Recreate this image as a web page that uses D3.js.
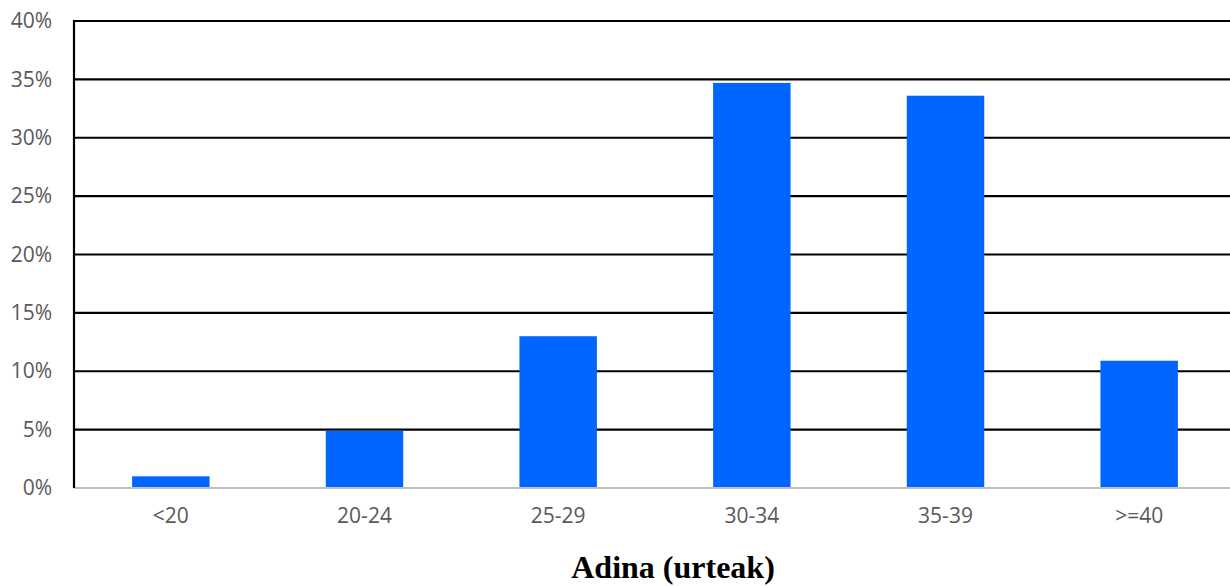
<!DOCTYPE html>
<html>
<head>
<meta charset="utf-8">
<script src="https://cdn.jsdelivr.net/npm/d3@7"></script>
<style>
  html, body { margin: 0; padding: 0; background: #ffffff; }
  svg { display: block; }
</style>
</head>
<body>
<svg id="chart" width="1230" height="586"></svg>
<script>
// Age groups and share of cases per group (%)
const categories = ["<20", "20-24", "25-29", "30-34", "35-39", ">=40"];
const values = [1.0, 4.9, 13.0, 34.7, 33.6, 10.9];
const yTicks = [0, 5, 10, 15, 20, 25, 30, 35, 40];
const xTitle = "Adina (urteak)";

const svg = d3.select("#chart");
const margin = { left: 74, top: 21, right: -6, bottom: 98 };
const W = 1230, H = 586;

const x = d3.scaleBand()
  .domain(categories)
  .range([margin.left, W - margin.right])
  .paddingInner(0.6)
  .paddingOuter(0.3);

const y = d3.scaleLinear()
  .domain([0, 40])
  .range([H - margin.bottom, margin.top]);

// horizontal gridlines
svg.append("g")
  .selectAll("line")
  .data(yTicks.filter(d => d > 0))
  .join("line")
  .attr("x1", margin.left)
  .attr("x2", W)
  .attr("y1", d => y(d))
  .attr("y2", d => y(d))
  .attr("stroke", "#000")
  .attr("stroke-width", 2.2);

// bars
svg.append("g")
  .selectAll("rect")
  .data(values)
  .join("rect")
  .attr("x", (d, i) => x(categories[i]))
  .attr("width", x.bandwidth())
  .attr("y", d => y(d))
  .attr("height", d => y(0) - y(d))
  .attr("fill", "#0066ff");

// baseline
svg.append("line")
  .attr("x1", margin.left).attr("x2", W)
  .attr("y1", y(0)).attr("y2", y(0))
  .attr("stroke", "#bfbfbf")
  .attr("stroke-width", 2.2);

// vertical axis line
svg.append("line")
  .attr("x1", margin.left).attr("x2", margin.left)
  .attr("y1", y(40) - 1).attr("y2", y(0))
  .attr("stroke", "#000")
  .attr("stroke-width", 2.2);

// y axis labels
const yAxis = d3.axisLeft(y)
  .tickValues(yTicks)
  .tickFormat(d => d + "%")
  .tickSize(0)
  .tickPadding(22);
const gy = svg.append("g")
  .attr("transform", `translate(${margin.left},0)`)
  .call(yAxis);
gy.select(".domain").remove();
gy.selectAll("text")
  .attr("fill", "#595959")
  .attr("font-family", "'Open Sans', sans-serif")
  .attr("font-size", 21);

// x axis labels
const xAxis = d3.axisBottom(x).tickSize(0).tickPadding(20);
const gx = svg.append("g")
  .attr("transform", `translate(0,${y(0)})`)
  .call(xAxis);
gx.select(".domain").remove();
gx.selectAll("text")
  .attr("fill", "#595959")
  .attr("font-family", "'Open Sans', sans-serif")
  .attr("font-size", 21);

// x axis title
svg.append("text")
  .attr("x", 673)
  .attr("y", 578)
  .attr("text-anchor", "middle")
  .attr("font-family", "'Liberation Serif', 'Times New Roman', serif")
  .attr("font-weight", "bold")
  .attr("font-size", 32)
  .attr("fill", "#000")
  .text(xTitle);
</script>
</body>
</html>
